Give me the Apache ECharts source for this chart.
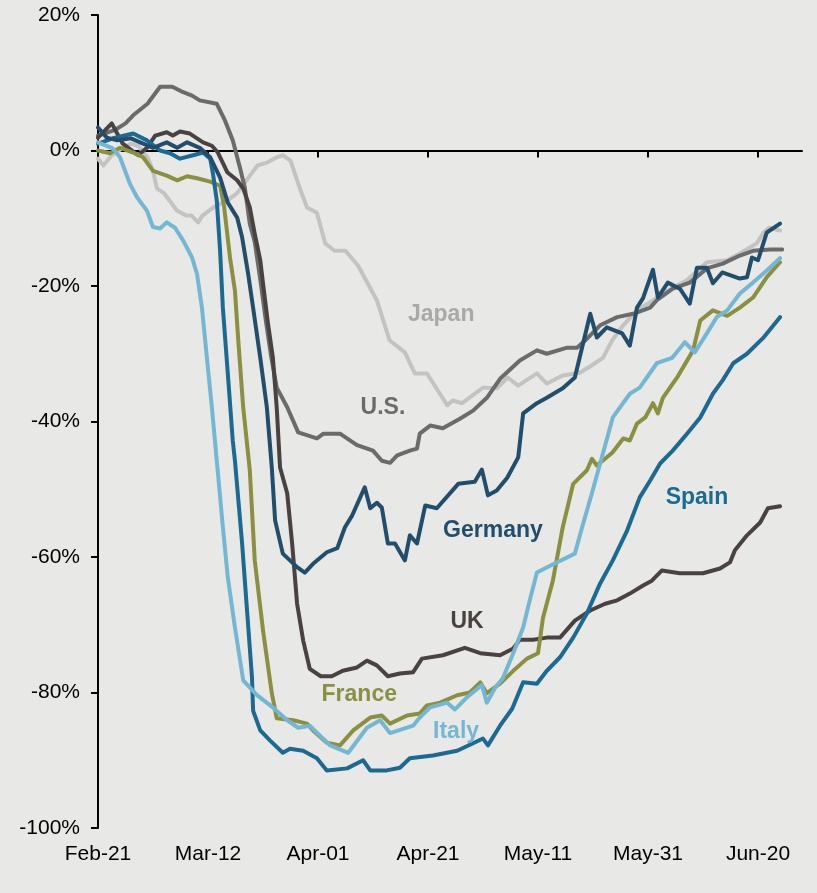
<!DOCTYPE html>
<html>
<head>
<meta charset="UTF-8">
<title>Chart</title>
<script src="https://cdn.jsdelivr.net/npm/echarts@6/dist/echarts.min.js"></script>
<style>
	html, body { margin: 0; padding: 0; background: #e8e8e6; }
	#chart { width: 817px; height: 893px; }
</style>
</head>
<body>
<div id="chart"></div>
<script type="text/javascript">
// x = days since Feb-21, y = % change
var tickDays = [0, 20, 40, 60, 80, 100, 120];
var tickLabels = ['Feb-21', 'Mar-12', 'Apr-01', 'Apr-21', 'May-11', 'May-31', 'Jun-20'];
var yTicks = [20, 0, -20, -40, -60, -80, -100];

var japan = [[0,-1.2],[1,-2.2],[2.5,-0.7],[4.5,0.4],[6,1.0],[7.3,0.7],[9,-1.0],[10,-3.0],[10.7,-5.6],[12,-6.3],[14.4,-8.9],[16,-9.6],[17,-9.6],[18.2,-10.6],[19,-9.6],[21,-8.4],[23.5,-7.4],[25.3,-6.3],[27,-4.4],[29,-2.2],[30.7,-1.8],[32.5,-1.0],[33.6,-0.7],[35,-1.5],[36.7,-5.6],[38,-8.4],[39.8,-9.2],[41.3,-13.7],[43,-14.8],[45,-14.8],[47.3,-17.0],[50.7,-22.1],[53,-28.0],[55.8,-29.8],[57.6,-32.9],[59.8,-32.9],[63.5,-37.6],[64.5,-36.9],[66.2,-37.3],[70,-35.0],[72.5,-35.1],[74.5,-33.5],[76.4,-34.7],[79.8,-32.9],[81.6,-34.4],[84.5,-33.2],[87.6,-32.8],[89.8,-31.7],[91.8,-30.6],[93.5,-28.0],[95.5,-25.8],[98,-23.6],[100.4,-22.4],[103.5,-20.7],[107,-19.2],[110.7,-16.5],[114.4,-16.2],[116.7,-15.2],[119.8,-13.7],[121,-12.1],[122,-11.4],[124,-11.8]];

var us = [[0,2.2],[3,3.0],[5,4.0],[6.4,5.2],[9,6.9],[11.3,9.4],[13.5,9.4],[15.5,8.6],[17.1,8.1],[18.5,7.4],[21.6,6.9],[23.1,4.4],[24.5,1.5],[25.8,-2.5],[26.7,-5.5],[27.6,-10.8],[28.5,-13.5],[29.5,-19],[30.5,-25],[31.5,-30.5],[32.5,-35.0],[34.4,-37.9],[36.4,-41.6],[39.8,-42.5],[41,-41.8],[44,-41.8],[47.1,-43.5],[50,-44.3],[51.6,-45.8],[53.1,-46.1],[54.4,-45.0],[56.7,-44.3],[58,-44],[58.5,-41.8],[60.4,-40.6],[62.7,-41.0],[65.8,-39.6],[68.2,-38.4],[70.7,-36.5],[73.1,-33.7],[76.7,-31.0],[79.8,-29.5],[81.6,-30],[85.3,-29.1],[87.1,-29.1],[89,-27.7],[91.3,-25.8],[94.4,-24.6],[97.3,-24.1],[100.4,-23.2],[101.6,-22.1],[104.5,-20.4],[107.6,-19.5],[110.7,-17.4],[113.6,-16.7],[116.7,-15.5],[119.1,-14.8],[122.2,-14.6],[124.4,-14.6]];

var uk = [[0,1.9],[2.5,4.0],[4.5,1.0],[7.3,-0.7],[8.9,0.4],[10.4,2.2],[12.5,2.7],[13.6,2.2],[14.9,2.8],[16.7,2.5],[19.1,1.2],[20.7,0.7],[21.8,-0.3],[23.5,-3.2],[25.3,-4.4],[26.4,-5.6],[27.6,-8.4],[28.5,-12.3],[29.5,-16.2],[30,-19.6],[30.9,-25.5],[31.8,-30.6],[32.5,-38],[33.1,-46.8],[34.4,-50.6],[35.3,-58],[36.2,-66.9],[37.3,-72.3],[38.5,-76.5],[40.5,-77.6],[42.5,-77.6],[44.5,-76.8],[47.1,-76.3],[48.9,-75.3],[50.7,-76],[52.7,-77.6],[54.9,-77.2],[57.3,-77],[58.9,-75],[62.7,-74.5],[66.7,-73.4],[69.5,-74.2],[73.1,-74.5],[75.5,-73.5],[76.7,-72.2],[79.1,-72.2],[81.6,-71.9],[84,-71.9],[86.7,-69.4],[89.5,-67.9],[92.2,-66.9],[94.4,-66.4],[96.7,-65.4],[99.1,-64.2],[100.7,-63.5],[102.5,-62.0],[105.8,-62.4],[110,-62.4],[113.1,-61.7],[114.9,-60.8],[115.8,-59.0],[118,-56.8],[120.4,-54.9],[121.8,-52.8],[124,-52.5]];

var germany = [[0,3.4],[1.6,1.9],[3.5,1.5],[6,1.8],[10,0.4],[12.5,1.2],[14.4,0.4],[16.2,1.2],[18.5,0.4],[20.4,-1.0],[22.2,-4.0],[23.6,-7.7],[25.3,-9.9],[26.2,-12.8],[27.3,-18.2],[28.2,-23.2],[29.5,-30.6],[30.7,-37.9],[31.6,-46.8],[32.2,-54.6],[33.6,-59.5],[36.2,-61.5],[37.6,-62.3],[39.1,-61.0],[41.6,-59.3],[43.5,-58.7],[44.9,-55.6],[46.2,-53.9],[48.5,-49.7],[49.5,-52.8],[50.7,-52.0],[51.6,-52.7],[52.7,-58.0],[54,-58.0],[55.8,-60.5],[56.7,-56.8],[58,-58.0],[59.5,-52.4],[61.6,-52.8],[65.5,-49.2],[68.5,-48.9],[69.8,-47.1],[70.9,-50.9],[72.5,-50.2],[74.4,-48.3],[76.4,-45.3],[77.3,-38.8],[79.8,-37.3],[81.6,-36.5],[84.5,-35.1],[86.7,-33.5],[89.5,-24.1],[90.7,-27.6],[92.5,-26.1],[95.3,-27.0],[96.7,-28.8],[98,-23.2],[99.1,-21.8],[100.9,-17.6],[101.8,-21.7],[103.6,-19.5],[105.8,-20.4],[107.6,-22.6],[108.9,-17.3],[110.7,-17.3],[111.8,-19.6],[113.5,-18.0],[116.7,-18.9],[118,-18.7],[118.9,-15.8],[120,-16.2],[121.6,-12.1],[124,-10.8]];

var france = [[0,0],[2.2,-0.4],[4,0.4],[6.4,-0.3],[8.2,-1.0],[10,-3.0],[12.5,-3.7],[14.4,-4.4],[16.2,-3.8],[18,-4.1],[20.4,-4.6],[22.2,-5.2],[22.9,-8.1],[24,-15.8],[24.9,-20.7],[25.5,-28.0],[26.4,-37.9],[27.6,-47.2],[28.5,-60.5],[30,-70.8],[31.6,-80.1],[32.5,-83.8],[35.5,-84.1],[38,-84.6],[39.1,-85.6],[41.6,-87.4],[44,-87.8],[46.4,-85.6],[49.5,-83.7],[51.6,-83.4],[53.1,-84.6],[56.2,-83.4],[58.5,-83.1],[59.8,-81.9],[62.2,-81.5],[65.3,-80.4],[67.6,-80.0],[69.5,-78.5],[70.7,-80.1],[73.1,-78.7],[75.5,-76.8],[78,-75.0],[80,-74.2],[80.9,-69],[82.7,-63.5],[84.5,-55.6],[86.4,-49.2],[88.9,-47.2],[89.8,-45.5],[90.7,-46.5],[93.5,-44.6],[95.5,-42.5],[96.7,-42.8],[98,-40.3],[99.5,-39.4],[100.9,-37.3],[101.8,-38.8],[102.7,-36.5],[105.3,-33.5],[108.2,-29.5],[109.5,-25.1],[111.8,-23.6],[114.4,-24.4],[116.7,-23.2],[119.1,-21.7],[121.6,-18.7],[124,-16.5]];

var italy = [[0,1.2],[2.7,0.3],[4,-1.0],[5.8,-4.9],[7.1,-6.9],[8.9,-8.9],[10,-11.3],[11.3,-11.5],[12.5,-10.6],[14,-11.4],[15.5,-13.3],[17.1,-15.8],[18,-18.2],[18.9,-23.2],[19.8,-30.6],[20.7,-37.9],[21.6,-45.8],[22.7,-55.6],[23.6,-63.0],[24.9,-70.4],[26.4,-78.2],[28.9,-80.4],[31.8,-82.2],[34.4,-84.1],[36.4,-85.2],[38.5,-84.9],[42.2,-87.8],[45.5,-88.9],[48.9,-85.2],[51.3,-84.1],[53.1,-86.0],[57.3,-84.9],[58.5,-83.7],[60.4,-82.2],[63.5,-81.5],[64.9,-82.5],[67.1,-80.7],[69.8,-78.9],[70.7,-81.5],[72.2,-79.3],[73.6,-77.9],[75.5,-74.2],[77.3,-70.4],[78.5,-66.4],[79.8,-62.3],[82.2,-61.3],[86.7,-59.5],[88.2,-55.1],[89.8,-50.6],[91.6,-45.3],[93.6,-39.4],[96.7,-35.9],[98.5,-35.0],[101.6,-31.4],[104.4,-30.6],[106.7,-28.3],[108.5,-29.8],[110.7,-27.0],[112.5,-24.6],[114.4,-23.6],[116.7,-21.1],[119.1,-19.5],[121.6,-17.7],[124,-15.9]];

var spain = [[0,1.0],[2.7,1.8],[6.4,2.5],[8.9,1.5],[11.3,0],[13.1,-0.4],[14.9,-1.2],[17.3,-0.7],[19.1,-0.3],[20.4,-1.2],[20.9,-3.4],[21.6,-7.4],[22.2,-14.8],[22.7,-23.2],[23.6,-32.9],[24.5,-42.8],[24.9,-45.8],[26.2,-58],[27.1,-67.9],[28,-77.8],[28.2,-82.7],[29.5,-85.6],[31.3,-87.1],[33.6,-88.9],[34.9,-88.3],[37.3,-88.6],[39.8,-89.7],[41.6,-91.5],[45.3,-91.2],[48.2,-90.0],[49.5,-91.5],[52.5,-91.5],[54.9,-91.1],[56.7,-89.7],[60.9,-89.3],[65.3,-88.6],[68.2,-87.5],[70,-86.8],[70.9,-87.8],[73.1,-84.9],[75.3,-82.4],[77.3,-78.5],[79.8,-78.7],[81.6,-76.8],[84,-74.8],[86.4,-71.9],[88.9,-68.3],[91.3,-63.9],[93.6,-60.5],[96.2,-56.1],[98.5,-51.2],[100.4,-48.7],[102.2,-46.2],[104.5,-44.3],[107.1,-41.8],[109.5,-39.4],[111.8,-35.9],[113.6,-33.9],[115.5,-31.4],[118,-30.0],[120.9,-27.7],[124,-24.6]];

// drawing order: later ones on top
var names = ['Japan', 'U.S.', 'UK', 'France', 'Spain', 'Italy', 'Germany'];
var seriesData = [japan, us, uk, france, spain, italy, germany];
var lineColors = ['#c3c3c3', '#6b6b6b', '#4a4241', '#8a9040', '#1b6a93', '#74b7d4', '#224e6d'];
var textColors = ['#a9a9a9', '#6b6b6b', '#4a4241', '#8a9040', '#1b6a93', '#74b7d4', '#224e6d'];
var labelAt = [[62.4, -24.2], [51.8, -37.9], [67.1, -69.5], [47.5, -80.3], [108.9, -51.2], [65.1, -85.8], [71.8, -56.1]];

var font = "'Liberation Sans', Arial, sans-serif";

var series = [];
for (var i = 0; i < names.length; i++) {
	series.push({
		name: names[i],
		type: 'line',
		xAxisIndex: 0,
		data: seriesData[i],
		symbol: 'none',
		smooth: false,
		lineStyle: { color: lineColors[i], width: 4, join: 'round', cap: 'round' },
		itemStyle: { color: lineColors[i] },
		silent: true,
		markPoint: {
			silent: true,
			symbol: 'circle',
			symbolSize: 0,
			data: [{ coord: labelAt[i], value: names[i] }],
			label: {
				show: true,
				position: 'inside',
				formatter: names[i],
				color: textColors[i],
				fontFamily: font,
				fontWeight: 'bold',
				fontSize: 23
			}
		}
	});
}

var myChart = echarts.init(document.getElementById('chart'));
myChart.setOption({
	backgroundColor: '#e8e8e6',
	animation: false,
	grid: { left: 98, right: 15, top: 15, bottom: 65 },
	xAxis: [{
		type: 'value',
		min: 0,
		max: 128,
		position: 'bottom',
		axisLine: { show: false, onZero: false },
		axisTick: { show: false },
		splitLine: { show: false },
		axisLabel: {
			customValues: tickDays,
			margin: 16,
			color: '#000',
			fontFamily: font,
			fontSize: 21,
			formatter: function (v) {
				var k = tickDays.indexOf(v);
				return k >= 0 ? tickLabels[k] : '';
			}
		}
	}, {
		// the 0% line with its ticks
		type: 'value',
		min: 0,
		max: 128,
		position: 'top',
		axisLine: { show: true, onZero: true, lineStyle: { color: '#000', width: 2 } },
		axisTick: { show: true, inside: true, length: 7, customValues: tickDays, lineStyle: { color: '#000', width: 2 } },
		axisLabel: { show: false },
		splitLine: { show: false }
	}],
	yAxis: {
		type: 'value',
		min: -100,
		max: 20,
		interval: 20,
		axisLine: { show: true, lineStyle: { color: '#000', width: 2 } },
		axisTick: { show: true, length: 7, lineStyle: { color: '#000', width: 2 } },
		splitLine: { show: false },
		axisLabel: {
			margin: 18,
			color: '#000',
			fontFamily: font,
			fontSize: 21,
			formatter: '{value}%'
		}
	},
	series: series
});
</script>
</body>
</html>
